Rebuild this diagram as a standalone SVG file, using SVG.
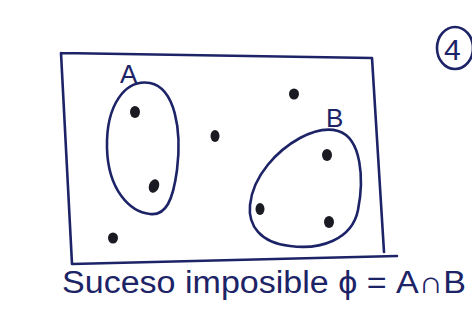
<svg xmlns="http://www.w3.org/2000/svg" width="472" height="325" viewBox="0 0 472 325">
<style>
.ln{fill:none;stroke:#1c2366;stroke-width:2.6;stroke-linecap:round;stroke-linejoin:round}
.dot{fill:#1a1a22}
.lbl{font-family:"Liberation Sans",Arial,sans-serif;fill:#1c2366}
</style>
<rect width="472" height="325" fill="#ffffff"/>
<g id="universe">
<path class="ln" d="M61,53 L372,58 L384,252 M397,256 L72,264 L61,53"/>
</g>
<g id="setA">
<path class="ln" d="M150,83 C175,88 182,130 177,170 C173,200 166,216 150,214 C130,212 108,190 107,148 C106,105 125,79 150,83 Z"/>
<text class="lbl" x="120" y="83" font-size="26">A</text>
</g>
<g id="setB">
<path class="ln" d="M338,131 C362,138 364,180 358,210 C352,240 320,250 290,246 C260,243 248,225 250,205 C253,175 278,150 300,138 C315,130 328,128 338,131 Z"/>
<text class="lbl" x="326" y="127" font-size="26">B</text>
</g>
<g id="points">
<ellipse class="dot" cx="135" cy="112" rx="5" ry="6"/>
<ellipse class="dot" cx="154" cy="186" rx="5" ry="7" transform="rotate(20 154 186)"/>
<ellipse class="dot" cx="215" cy="136" rx="4.5" ry="6"/>
<ellipse class="dot" cx="294" cy="94" rx="5" ry="5.5"/>
<ellipse class="dot" cx="327" cy="155" rx="5" ry="6"/>
<ellipse class="dot" cx="260" cy="209" rx="4.5" ry="6"/>
<ellipse class="dot" cx="329" cy="222" rx="5" ry="6"/>
<ellipse class="dot" cx="113" cy="238" rx="5" ry="5.5"/>
</g>
<g id="number">
<ellipse class="ln" cx="455" cy="48" rx="18" ry="21"/>
<text class="lbl" x="444" y="60" font-size="30">4</text>
</g>
<g id="caption">
<text class="lbl" x="62" y="293" font-size="31" textLength="404" lengthAdjust="spacingAndGlyphs">Suceso imposible ϕ = A∩B</text>
</g>
</svg>
